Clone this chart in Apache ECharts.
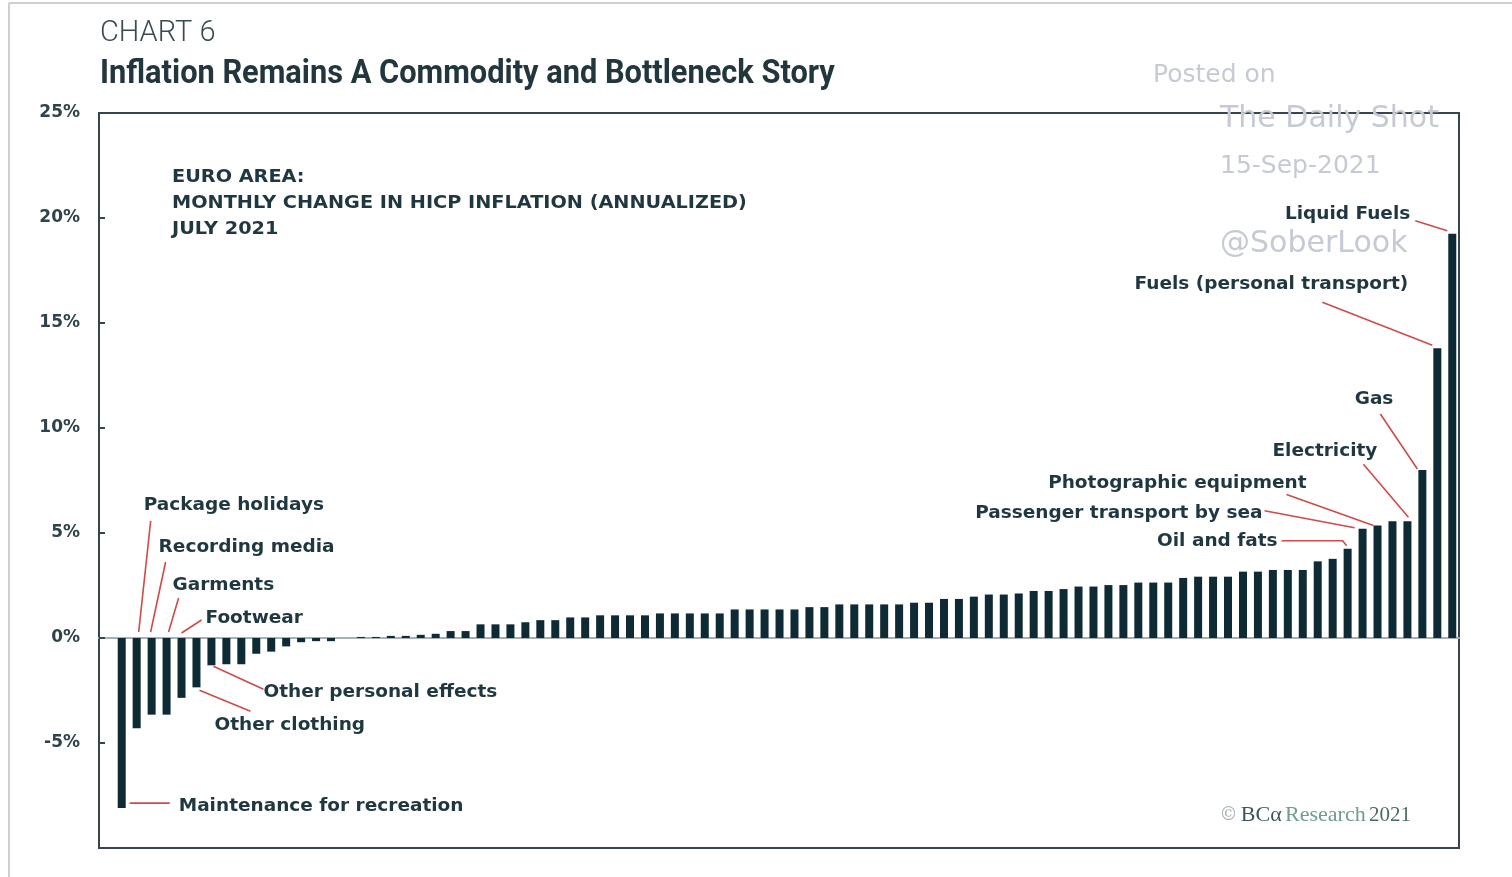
<!DOCTYPE html>
<html>
<head>
<meta charset="utf-8">
<script src="https://cdn.jsdelivr.net/npm/echarts@6/dist/echarts.min.js"></script>
<style>
  html, body { margin: 0; padding: 0; background: #ffffff; }
  #chart { width: 1512px; height: 877px; }
</style>
</head>
<body>
<div id="chart"></div>
<script>
// Euro area HICP components: monthly change, annualized, July 2021 (sorted, %)
const hicpChange = [
  -8.1, -4.3, -3.65, -3.65, -2.85, -2.35, -1.3, -1.25, -1.25, -0.75,
  -0.65, -0.4, -0.2, -0.15, -0.15, 0, 0.05, 0.05, 0.1, 0.1,
  0.15, 0.2, 0.33, 0.33, 0.65, 0.65, 0.65, 0.75, 0.85, 0.85,
  0.98, 0.98, 1.08, 1.08, 1.08, 1.08, 1.17, 1.17, 1.17, 1.17,
  1.17, 1.36, 1.36, 1.36, 1.36, 1.36, 1.47, 1.47, 1.6, 1.6,
  1.6, 1.6, 1.6, 1.68, 1.68, 1.86, 1.86, 1.97, 2.07, 2.07,
  2.12, 2.24, 2.24, 2.33, 2.45, 2.45, 2.52, 2.52, 2.64, 2.64,
  2.64, 2.86, 2.92, 2.92, 2.92, 3.16, 3.16, 3.24, 3.24, 3.24,
  3.65, 3.77, 4.25, 5.2, 5.36, 5.56, 5.56, 8.0, 13.8, 19.25
];

// Named components and the position (rank) of their bar
const calloutText = [
  'Maintenance for recreation', 'Package holidays', 'Recording media', 'Garments',
  'Footwear', 'Other clothing', 'Other personal effects', 'Oil and fats',
  'Passenger transport by sea', 'Photographic equipment', 'Electricity', 'Gas',
  'Fuels (personal transport)', 'Liquid Fuels'
];
const calloutBar = [0, 1, 2, 3, 4, 5, 6, 82, 83, 84, 86, 87, 88, 89];

// Y axis ticks
const yTicks = [-10, -5, 0, 5, 10, 15, 20, 25];

// Leader line / label placement, in pixels relative to the bar anchor
const calloutLayout = [
  { at: 'end',  line: [[8, -5], [48, -5]],             text: [57, -2],   align: 'left' },
  { at: 'base', line: [[2, -6], [14, -117]],           text: [7, -133],  align: 'left' },
  { at: 'base', line: [[-1, -6], [14, -76]],           text: [7, -91],   align: 'left' },
  { at: 'base', line: [[2, -6], [12, -40]],            text: [6, -53],   align: 'left' },
  { at: 'base', line: [[0, -5], [20, -18]],            text: [24, -20],  align: 'left' },
  { at: 'end',  line: [[3, 3], [54, 24]],              text: [18, 38],   align: 'left' },
  { at: 'end',  line: [[2, 1], [52, 24]],              text: [52, 27],   align: 'left' },
  { at: 'end',  line: [[-66, -8], [-5, -8], [-1, -3]], text: [-70, -8],  align: 'right' },
  { at: 'end',  line: [[-98, -18], [-8, -1]],          text: [-100, -16], align: 'right' },
  { at: 'end',  line: [[-91, -31], [-4, 0]],           text: [-71, -42], align: 'right' },
  { at: 'end',  line: [[-44, -57], [1, -4]],           text: [-30, -70], align: 'right' },
  { at: 'end',  line: [[-42, -56], [-5, -1]],          text: [-29, -71], align: 'right' },
  { at: 'end',  line: [[-115, -46], [-5, -3]],         text: [-29, -64], align: 'right' },
  { at: 'end',  line: [[-37, -13], [-5, -3]],          text: [-42, -20], align: 'right' }
];

const INK = '#1f3740';
const LEADER = '#cf4a48';
const LABEL_FONT = 'bold 18.5px "DejaVu Sans"';

const barData = hicpChange.map((v, i) => [i, v]);
const calloutData = calloutBar.map((b, k) => [b, calloutLayout[k].at === 'base' ? 0 : hicpChange[b], k]);

const chart = echarts.init(document.getElementById('chart'), null, { renderer: 'canvas' });

function txt(x, y, text, font, fill, align, sx) {
  return {
    type: 'text', x: x, y: y, z: 10, scaleX: sx || 1,
    style: {
      text: text, font: font, fill: fill,
      align: align || 'left', textAlign: align || 'left',
      verticalAlign: 'middle', textVerticalAlign: 'middle'
    }
  };
}

const WM = '#c6cad4';

chart.setOption({
  animation: false,
  backgroundColor: '#ffffff',
  grid: {
    left: 99, top: 113, width: 1360, height: 735,
    show: true, borderColor: '#34474e', borderWidth: 2, backgroundColor: 'transparent'
  },
  xAxis: {
    type: 'value', min: -1.52, max: 89.45,
    axisLine: { show: true, onZero: true, lineStyle: { color: '#a7b1b5', width: 2 } },
    axisTick: { show: false }, axisLabel: { show: false }, splitLine: { show: false }
  },
  yAxis: {
    type: 'value', min: yTicks[0], max: yTicks[yTicks.length - 1], interval: 5,
    axisLine: { show: false, onZero: false },
    axisTick: { show: true, inside: true, length: 6, lineStyle: { color: '#34474e', width: 2 } },
    axisLabel: {
      margin: 19, color: '#2f434a', fontFamily: 'DejaVu Sans', fontWeight: 'bold', fontSize: 17,
      formatter: v => (v === yTicks[0] ? '' : v + '%')
    },
    splitLine: { show: false }
  },
  series: [
    {
      type: 'bar', data: barData, barWidth: 8, z: 3,
      itemStyle: { color: '#0e2b35' }
    },
    {
      type: 'custom', data: calloutData, z: 5, clip: false, silent: true,
      renderItem: function (params, api) {
        const k = api.value(2);
        const p = api.coord([api.value(0), api.value(1)]);
        const L = calloutLayout[k];
        return {
          type: 'group',
          children: [
            {
              type: 'polyline',
              shape: { points: L.line.map(d => [p[0] + d[0], p[1] + d[1]]) },
              style: { stroke: LEADER, lineWidth: 1.6, fill: null }
            },
            {
              type: 'text', x: p[0] + L.text[0], y: p[1] + L.text[1],
              style: {
                text: calloutText[k], font: LABEL_FONT, fill: INK,
                align: L.align, textAlign: L.align,
                verticalAlign: 'middle', textVerticalAlign: 'middle'
              }
            }
          ]
        };
      }
    }
  ],
  graphic: [
    // frame of the figure
    { type: 'line', shape: { x1: 9, y1: 3, x2: 1512, y2: 3 }, style: { stroke: '#cfcfcf', lineWidth: 2 } },
    { type: 'line', shape: { x1: 9, y1: 3, x2: 9, y2: 877 }, style: { stroke: '#cfcfcf', lineWidth: 2 } },
    txt(100, 34, 'CHART 6', '300 29px Roboto', '#3a4b52'),
    txt(100, 74, 'Inflation Remains A Commodity and Bottleneck Story', 'bold 34px Roboto', '#22363e', 'left', 0.905),
    txt(172, 177, 'EURO AREA:', 'bold 18px "DejaVu Sans"', INK, 'left', 1.07),
    txt(172, 203, 'MONTHLY CHANGE IN HICP INFLATION (ANNUALIZED)', 'bold 18px "DejaVu Sans"', INK, 'left', 1.07),
    txt(172, 229, 'JULY 2021', 'bold 18px "DejaVu Sans"', INK, 'left', 1.07),
    txt(1153, 75, 'Posted on', '25px "DejaVu Sans"', WM),
    txt(1220, 119, 'The Daily Shot', '30px "DejaVu Sans"', WM),
    txt(1220, 166, '15-Sep-2021', '25px "DejaVu Sans"', WM),
    txt(1220, 244, '@SoberLook', '30px "DejaVu Sans"', WM),
    {
      type: 'text', x: 1411, y: 815, z: 10,
      style: {
        text: '{c|©} {b|BCα} {r|Research} {y|2021}',
        align: 'right', textAlign: 'right', verticalAlign: 'middle', textVerticalAlign: 'middle',
        rich: {
          c: { font: '18px "DejaVu Serif"', fill: '#a8b0b4', color: '#a8b0b4' },
          b: { font: '22px "Liberation Serif"', fill: '#3d5560', color: '#3d5560' },
          r: { font: '22px "Liberation Serif"', fill: '#6f9c8c', color: '#6f9c8c' },
          y: { font: '21px "Liberation Serif"', fill: '#4c6b64', color: '#4c6b64' }
        }
      }
    }
  ]
});
</script>
</body>
</html>
